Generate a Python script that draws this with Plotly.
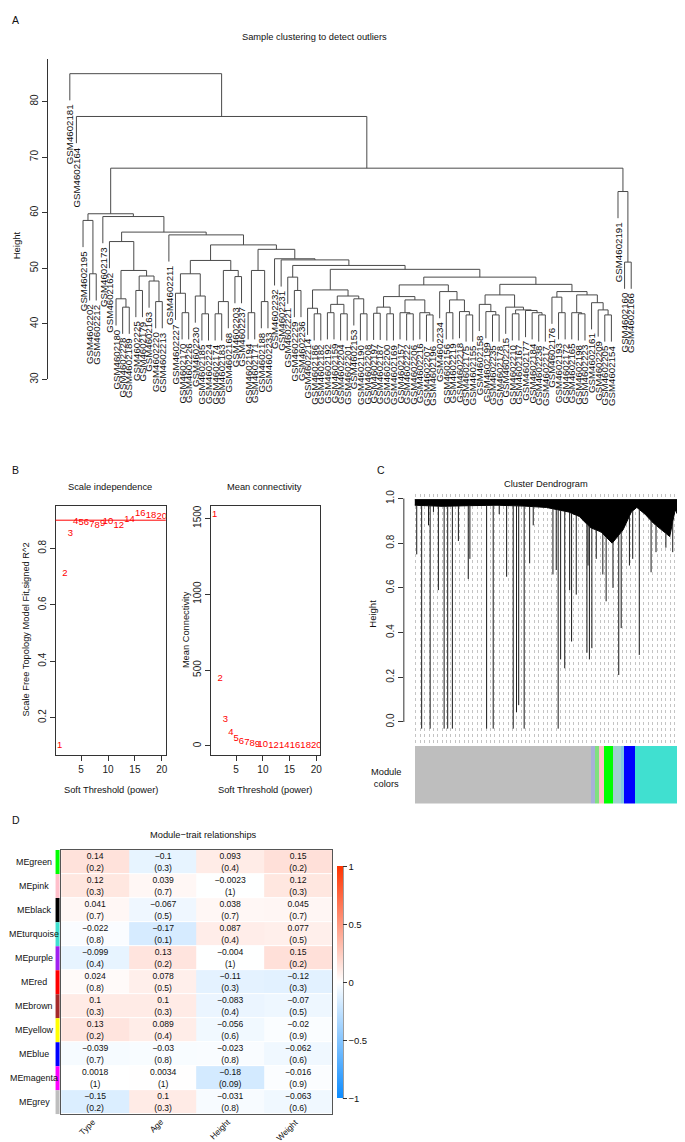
import numpy as np
import plotly.graph_objects as go

W, H = 685, 1142
FONT = "Liberation Sans, Arial, Helvetica, sans-serif"

# ---------------- Panel A: sample clustering ----------------
sample_ids = [181, 164, 195, 202, 212, 173, 162, 180, 228, 189,
              225, 179, 163, 220, 213, 211, 227, 170, 226, 230,
              185, 224, 174, 183, 168, 203, 237, 194, 171, 188,
              233, 232, 231, 221, 229, 236, 214, 186, 182, 192,
              159, 204, 201, 153, 190, 208, 197, 187, 200, 169,
              157, 222, 206, 216, 207, 196, 234, 156, 219, 218,
              175, 155, 158, 199, 235, 178, 215, 210, 167, 177,
              184, 238, 217, 176, 193, 172, 165, 198, 223, 161,
              209, 205, 154, 191, 160, 166]
sample_labels = ["GSM4602" + str(s) for s in sample_ids]

# merge tree: [height, left, right]; integers are leaf positions (1-based)
node_A2 = [49.6, [44.5, 8, [43.0, 9, 10]], [48.6, [46.0, 11, 12], [47.7, 13, [44.0, 14, 15]]]]
node_R3a = [51.4, [49.0, [45.5, 17, [42.0, 18, 19]], [45.0, 20, [41.8, 21, 22]]],
            [49.6, [44.0, [41.8, 23, 24], 25], [48.5, 26, 27]]]
node_R9a = [46.1, [42.8, 37, [41.8, 38, 39]],
            [45.0, [43.5, [42.0, 40, 41], [41.8, 42, 43]], [44.5, 44, [41.8, 45, 46]]]]
node_R10a = [47.0, [44.9, [43.0, [41.9, 47, 48], [41.8, 49, 50]],
                    [44.3, [42.0, 51, [41.8, 52, 53]], [42.0, 54, [41.6, 55, 56]]]],
             [45.8, 57, [44.3, [42.0, 58, 59], [42.2, 60, [41.6, 61, 62]]]]]
node_R10b = [47.1, [45.2, [43.5, 63, [42.2, 64, [41.6, 65, 66]]],
                    [43.0, 67, [42.5, [41.8, 68, 69], [42.4, 70, [42.0, 71, [41.6, 72, 73]]]]]],
             [45.8, [44.8, 74, [42.0, 75, 76]],
                    [45.2, [42.0, 77, [41.8, 78, 79]], [43.8, 80, [42.5, 81, [41.6, 82, 83]]]]]]
node_R8 = [50.5, [48.4, 34, [46.0, 35, 36]], [49.8, node_R9a, [48.4, node_R10a, node_R10b]]]
node_R4 = [53.4, [49.6, [42.0, 28, 29], [44.0, 30, 31]], [51.7, 32, [51.5, 33, node_R8]]]
node_main = [59.8, [58.6, 3, [49.0, 4, 5]],
             [59.3, 6, [56.5, [54.8, 7, node_A2], [56.0, 16, [54.2, node_R3a, node_R4]]]]]
node_out = [63.8, 84, [51.1, 85, 86]]
sample_tree = [85.0, 1, [77.3, 2, [68.0, node_main, node_out]]]
HANG = 4.8

# ---------------- Panel B: soft threshold ----------------
powers = [1, 2, 3, 4, 5, 6, 7, 8, 9, 10, 12, 14, 16, 18, 20]
signed_r2 = [0.10, 0.712, 0.854, 0.894, 0.893, 0.89, 0.884, 0.882, 0.888, 0.894,
             0.882, 0.903, 0.922, 0.915, 0.913]
mean_conn = [1521, 445, 176, 87, 50, 31, 20, 13, 9, 6.5, 3.3, 1.9, 1.2, 0.8, 0.55]
r2_cut = 0.9

# ---------------- Panel C: gene dendrogram ----------------
band_u = [0, 100, 200, 300, 400, 480, 520, 560, 600, 640, 680, 720, 760, 790, 810,
          840, 870, 900, 930, 950, 970, 1000]
band_v = [0.97, 0.965, 0.968, 0.97, 0.966, 0.96, 0.95, 0.94, 0.92, 0.87, 0.85, 0.80,
          0.86, 0.94, 0.96, 0.93, 0.89, 0.86, 0.83, 0.95, 0.90, 0.85]
band_top = 0.995
drop_u = [7, 25, 50, 56, 68, 86, 107, 120, 137, 159, 195, 201, 262, 286, 308, 335,
          359, 371, 379, 399, 419, 432, 504, 516, 523, 532, 547, 565, 572, 589,
          628, 632, 637, 646, 662, 686, 698, 723, 744, 753, 783, 795, 819, 862,
          880, 916, 941, 989]
drop_v = [0.75, -0.03, 0.88, -0.03, 0.94, 0.59, -0.03, -0.03, -0.03, 0.81, 0.64, 0.73,
          -0.03, -0.03, 0.93, 0.65, -0.03, 0.044, 0.075, -0.03, 0.71, 0.88, 0.66, 0.68,
          -0.03, 0.28, 0.24, 0.59, 0.36, 0.57, 0.31, 0.70, 0.28, 0.33, 0.73, 0.66,
          0.54, 0.60, 0.21, 0.42, 0.70, 0.73, 0.30, 0.67, 0.76, 0.78, 0.76, 0.81]
module_block_start = [0, 644, 655, 673, 691, 722, 750, 761, 804]
module_block_end = [644, 655, 673, 691, 722, 750, 761, 804, 1000]
module_block_color = ["#BEBEBE", "#A8B0D8", "#80E080", "#FFC0CB", "#00FF00",
                      "#9FD0D0", "#80C8E0", "#0000FF", "#40E0D0"]

# ---------------- Panel D: module-trait ----------------
modules = ["MEgreen", "MEpink", "MEblack", "MEturquoise", "MEpurple", "MEred",
           "MEbrown", "MEyellow", "MEblue", "MEmagenta", "MEgrey"]
module_colors = ["#00FF00", "#FFC0CB", "#000000", "#40E0D0", "#A020F0", "#FF0000",
                 "#A52A2A", "#FFFF00", "#0000FF", "#FF00FF", "#BEBEBE"]
traits = ["Type", "Age", "Height", "Weight"]
cor = [[0.14, -0.1, 0.093, 0.15],
       [0.12, 0.039, -0.0023, 0.12],
       [0.041, -0.067, 0.038, 0.045],
       [-0.022, -0.17, 0.087, 0.077],
       [-0.099, 0.13, -0.004, 0.15],
       [0.024, 0.078, -0.11, -0.12],
       [0.1, 0.1, -0.083, -0.07],
       [0.13, 0.089, -0.056, -0.02],
       [-0.039, -0.03, -0.023, -0.062],
       [0.0018, 0.0034, -0.18, -0.016],
       [-0.15, 0.1, -0.031, -0.063]]
pval = [[0.2, 0.3, 0.4, 0.2],
        [0.3, 0.7, 1, 0.3],
        [0.7, 0.5, 0.7, 0.7],
        [0.8, 0.1, 0.4, 0.5],
        [0.4, 0.2, 1, 0.2],
        [0.8, 0.5, 0.3, 0.3],
        [0.3, 0.3, 0.4, 0.5],
        [0.2, 0.4, 0.6, 0.9],
        [0.7, 0.8, 0.8, 0.6],
        [1, 1, 0.09, 0.9],
        [0.2, 0.3, 0.8, 0.6]]


# ---------------- helpers ----------------
def dx(a, b):
    return [a / W, b / W]


def dy(top, bottom):
    return [1 - bottom / H, 1 - top / H]


def fmt(v):
    return ("%g" % v).replace("-", "\u2212")


annotations = []


def ann(text, x, y, size=9.5, angle=0, xa="center", ya="middle", color="#111"):
    annotations.append(dict(text=text, x=x / W, y=1 - y / H, xref="paper", yref="paper",
                            showarrow=False, textangle=angle, xanchor=xa, yanchor=ya,
                            font=dict(size=size, color=color, family=FONT)))


fig = go.Figure()

# ---------- Panel A ----------
seg_x, seg_y = [], []
leaf_end = {}


def place(node):
    if isinstance(node, int):
        return node, None
    h, a, b = node
    pts = []
    for child in (a, b):
        cx, ch = place(child)
        if ch is None:
            bottom = h - HANG
            leaf_end[cx] = bottom
        else:
            bottom = ch
        pts.append((cx, bottom))
    (xl, bl), (xr, br) = pts
    seg_x.extend([xl, xl, xr, xr, None])
    seg_y.extend([bl, h, h, br, None])
    return (xl + xr) / 2.0, h


place(sample_tree)
fig.add_trace(go.Scatter(x=seg_x, y=seg_y, mode="lines", xaxis="x", yaxis="y",
                         line=dict(color="#4a4a4a", width=1), hoverinfo="skip"))
for pos, lab in enumerate(sample_labels, start=1):
    annotations.append(dict(text=lab, x=pos, y=leaf_end[pos], xref="x", yref="y",
                            showarrow=False, textangle=-90, xanchor="center",
                            yanchor="top", yshift=-2,
                            font=dict(size=9.7, color="#111", family=FONT)))

# ---------- Panel B ----------
fig.add_trace(go.Scatter(x=powers, y=signed_r2, mode="text", text=[str(p) for p in powers],
                         textfont=dict(color="#FF0000", size=9.5, family=FONT),
                         xaxis="x2", yaxis="y2", hoverinfo="skip"))
fig.add_trace(go.Scatter(x=powers, y=mean_conn, mode="text", text=[str(p) for p in powers],
                         textfont=dict(color="#FF0000", size=9.5, family=FONT),
                         xaxis="x3", yaxis="y3", hoverinfo="skip"))

# ---------- Panel C ----------
poly_x = list(band_u) + [band_u[-1], band_u[0]]
poly_y = list(band_v) + [band_top, band_top]
fig.add_trace(go.Scatter(x=poly_x, y=poly_y, mode="lines", fill="toself",
                         fillcolor="#000000", line=dict(color="#000000", width=1),
                         xaxis="x4", yaxis="y4", hoverinfo="skip"))
drop_top = np.interp(drop_u, band_u, band_v)
dxs, dys = [], []
for u, top, v in zip(drop_u, drop_top, drop_v):
    dxs.extend([u, u, None])
    dys.extend([top, v, None])
fig.add_trace(go.Scatter(x=dxs, y=dys, mode="lines", line=dict(color="#1a1a1a", width=1),
                         xaxis="x4", yaxis="y4", hoverinfo="skip"))
fig.add_trace(go.Bar(x=[e - s for s, e in zip(module_block_start, module_block_end)],
                     base=module_block_start, y=[0] * len(module_block_start),
                     orientation="h", width=1, marker=dict(color=module_block_color, line=dict(width=0)),
                     xaxis="x5", yaxis="y5", hoverinfo="skip"))

# ---------- Panel D ----------
cell_text = [[fmt(c) + "<br>(" + fmt(p) + ")" for c, p in zip(rc, rp)] for rc, rp in zip(cor, pval)]
fig.add_trace(go.Heatmap(z=cor, x=traits, y=modules, text=cell_text, texttemplate="%{text}",
                         textfont=dict(size=8.6, color="#111", family=FONT),
                         colorscale=[[0, "#0D8CFF"], [0.5, "#FFFFFF"], [1, "#FF3300"]],
                         zmin=-1, zmax=1, ygap=1, xaxis="x6", yaxis="y6", hoverinfo="skip",
                         colorbar=dict(x=330 / W, xanchor="left", xpad=0, ypad=0,
                                       y=1 - 977.3 / H, yanchor="middle", len=233.3 / H,
                                       lenmode="fraction", thickness=6, outlinewidth=0,
                                       ticks="outside", ticklen=4, tickcolor="#333",
                                       tickvals=[-1, -0.5, 0, 0.5, 1],
                                       ticktext=["\u22121", "\u22120.5", "0", "0.5", "1"],
                                       tickfont=dict(size=9.5, color="#111", family=FONT))))

shapes = []
# threshold line
shapes.append(dict(type="line", xref="x2 domain", x0=0, x1=1, yref="y2", y0=r2_cut, y1=r2_cut,
                   line=dict(color="#FF0000", width=1)))
# dendrogram y axis line (0..1 only)
shapes.append(dict(type="line", xref="paper", x0=397 / W, x1=397 / W, yref="y4", y0=0, y1=1,
                   line=dict(color="#333", width=1)))
# colorbar right edge
shapes.append(dict(type="line", xref="paper", x0=336 / W, x1=336 / W, yref="paper",
                   y0=1 - 1094 / H, y1=1 - 860.7 / H, line=dict(color="#444", width=1)))
for i, col in enumerate(module_colors):
    shapes.append(dict(type="rect", xref="paper", x0=47.7 / W, x1=51.7 / W, yref="y6",
                       y0=i - 0.5, y1=i + 0.5, fillcolor=col, line=dict(width=0), layer="above"))

for m in modules:
    annotations.append(dict(text=m, x=26.5 / W, y=m, xref="paper", yref="y6", showarrow=False,
                            xanchor="center", yanchor="middle",
                            font=dict(size=8.9, color="#111", family=FONT)))
# trait labels (rotated, ending just below each column)
for t in traits:
    annotations.append(dict(text=t, x=t, y=1 - 1110 / H, xref="x6", yref="paper",
                            showarrow=False, textangle=-45, xanchor="right", yanchor="top",
                            xshift=5, font=dict(size=8.4, color="#111", family=FONT)))

# titles and labels
ann("A", 8, 8, size=10.5)
ann("B", 8, 461, size=10.5)
ann("C", 374, 461, size=10.5)
ann("D", 8, 814, size=10.5)
ann("Sample clustering to detect outliers", 307, 25, size=9.3)
ann("Height", 8, 235, size=9.5, angle=-90)
ann("Scale independence", 102, 478, size=9.3)
ann("Mean connectivity", 257, 478, size=9.3)
ann("Soft Threshold (power)", 103, 783, size=9.3)
ann("Soft Threshold (power)", 258, 783, size=9.3)
ann("Scale Free Topology Model Fit,signed R^2", 18, 622, size=9.3, angle=-90)
ann("Mean Connectivity", 178, 622, size=9.3, angle=-90)
ann("Cluster Dendrogram", 540, 475, size=9.3)
ann("Height", 366, 606, size=9.5, angle=-90)
ann("Module<br>colors", 380, 771, size=9.3)
ann("Module\u2212trait relationships", 196, 829, size=9.3)

tick_font = dict(size=10, color="#222", family=FONT)
box = dict(showline=True, mirror=True, linecolor="#333", linewidth=1, ticks="outside",
           ticklen=5, tickcolor="#333", showgrid=False, zeroline=False, tickfont=tick_font)

fig.update_layout(
    width=W, height=H, margin=dict(l=0, r=0, t=0, b=0),
    paper_bgcolor="white", plot_bgcolor="white", showlegend=False,
    font=dict(family=FONT, color="#111"),
    xaxis=dict(domain=dx(40, 650), range=[-2.32, 89.77], visible=False),
    yaxis=dict(domain=dy(47, 370), range=[30, 87.7], showline=True, linecolor="#333",
               ticks="outside", ticklen=5, tickcolor="#333", tickvals=[30, 40, 50, 60, 70, 80],
               tickangle=-90, showgrid=False, zeroline=False, tickfont=tick_font),
    xaxis2=dict(domain=dx(47.7, 158.3), range=[0.24, 20.76], tickvals=[5, 10, 15, 20],
                anchor="y2", **box),
    yaxis2=dict(domain=dy(497.3, 748.3), range=[0.067, 0.951], tickvals=[0.2, 0.4, 0.6, 0.8],
                tickangle=-90, anchor="x2", **box),
    xaxis3=dict(domain=dx(203.3, 313.3), range=[0.24, 20.76], tickvals=[5, 10, 15, 20],
                anchor="y3", **box),
    yaxis3=dict(domain=dy(497.3, 748.3), range=[-60, 1582], tickvals=[0, 500, 1000, 1500],
                tickangle=-90, anchor="x3", **box),
    xaxis4=dict(domain=dx(397, 684), range=[-40, 1004], anchor="y4",
                tickvals=list(np.arange(4, 1000, 16)), showticklabels=False, ticks="",
                showgrid=True, gridcolor="#c4c4c4", griddash="dot", gridwidth=1,
                zeroline=False, showline=False),
    yaxis4=dict(domain=dy(485, 737), range=[-0.098, 1.022], anchor="x4",
                tickvals=[0, 0.2, 0.4, 0.6, 0.8, 1.0],
                ticktext=["0.0", "0.2", "0.4", "0.6", "0.8", "1.0"], tickangle=-90,
                ticks="outside", ticklen=5, tickcolor="#333", showline=False,
                showgrid=False, zeroline=False, tickfont=tick_font),
    xaxis5=dict(domain=dx(397, 684), range=[-40, 1004], anchor="y5", visible=False),
    yaxis5=dict(domain=dy(739, 797), range=[-0.5, 0.5], anchor="x5", visible=False),
    xaxis6=dict(domain=dx(53.3, 325), anchor="y6", showline=True, mirror=True,
                linecolor="#555", ticks="", showticklabels=False, showgrid=False,
                zeroline=False),
    yaxis6=dict(domain=dy(844, 1110), anchor="x6", range=[10.5, -0.5], showline=True,
                mirror=True, linecolor="#555", showticklabels=False, ticks="",
                showgrid=False, zeroline=False),
    shapes=shapes, annotations=annotations, bargap=0,
)

fig.write_html("out.html")
